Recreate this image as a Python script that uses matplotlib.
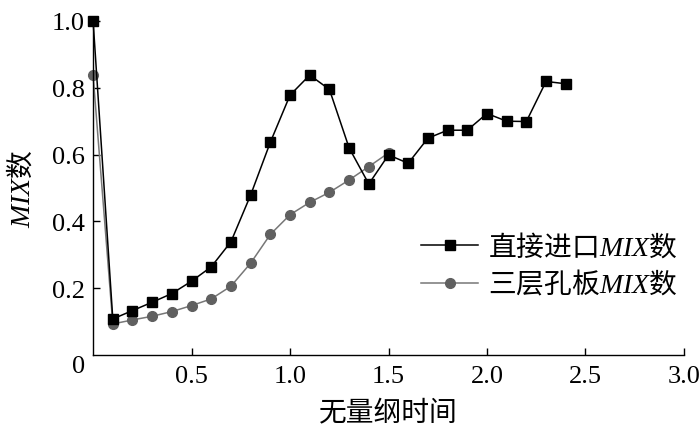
import matplotlib
matplotlib.use("Agg")
import matplotlib.pyplot as plt
from matplotlib.font_manager import FontProperties

plt.rcParams['font.family'] = ['Liberation Serif', 'Noto Sans CJK SC']
plt.rcParams['mathtext.fontset'] = 'custom'
plt.rcParams['mathtext.rm'] = 'Liberation Serif'
plt.rcParams['mathtext.it'] = 'Liberation Serif:italic'

# 数据
x_direct = [0.0, 0.1, 0.2, 0.3, 0.4, 0.5, 0.6, 0.7, 0.8, 0.9, 1.0, 1.1, 1.2,
            1.3, 1.4, 1.5, 1.6, 1.7, 1.8, 1.9, 2.0, 2.1, 2.2, 2.3, 2.4]
y_direct = [1.0, 0.108, 0.133, 0.158, 0.184, 0.221, 0.264, 0.339, 0.479, 0.637,
            0.778, 0.838, 0.795, 0.620, 0.512, 0.599, 0.574, 0.649, 0.673, 0.673,
            0.723, 0.700, 0.699, 0.819, 0.812]

x_orifice = [0.0, 0.1, 0.2, 0.3, 0.4, 0.5, 0.6, 0.7, 0.8, 0.9, 1.0, 1.1, 1.2,
             1.3, 1.4, 1.5]
y_orifice = [0.837, 0.093, 0.105, 0.116, 0.130, 0.148, 0.168, 0.206, 0.275,
             0.361, 0.420, 0.457, 0.487, 0.524, 0.564, 0.605]

label_direct = '直接进口$MIX$数'
label_orifice = '三层孔板$MIX$数'
x_ticks = [0.5, 1.0, 1.5, 2.0, 2.5, 3.0]
y_ticks = [0.2, 0.4, 0.6, 0.8, 1.0]

cjk = FontProperties(family='Noto Sans CJK SC', size=20)

fig = plt.figure(figsize=(7, 4.31), dpi=100)
ax = fig.add_axes([0.133, 0.174, 0.844, 0.775])

ax.plot(x_direct, y_direct, color='black', lw=1.1, marker='s', markersize=7,
        label=label_direct, clip_on=False, zorder=3)
ax.plot(x_orifice, y_orifice, color='#777777', lw=1.1, marker='o', markersize=7,
        markerfacecolor='#606060', markeredgecolor='#606060', label=label_orifice,
        clip_on=False, zorder=2)

ax.set_xlim(0, 3.0)
ax.set_ylim(0, 1.0)
ax.set_xticks(x_ticks)
ax.set_xticklabels(['%.1f' % v for v in x_ticks])
ax.set_yticks(y_ticks)
ax.set_yticklabels(['%.1f' % v for v in y_ticks])
ax.tick_params(direction='in', length=5, width=1, labelsize=19)
ax.tick_params(axis='x', pad=7)
ax.tick_params(axis='y', pad=6)
ax.spines['top'].set_visible(False)
ax.spines['right'].set_visible(False)
for s in ['left', 'bottom']:
    ax.spines[s].set_linewidth(1)

ax.annotate('0', xy=(0, 0), xycoords='data', xytext=(-6, -8),
            textcoords='offset points', fontsize=19, ha='right', va='center')

ax.set_xlabel('无量纲时间', fontproperties=cjk, labelpad=8)
ax.set_ylabel('$MIX$数', fontproperties=cjk, labelpad=11)

ax.legend(loc='center left', bbox_to_anchor=(0.513, 0.268), frameon=False,
          prop=cjk, handlelength=2.05, handletextpad=0.36, labelspacing=0.3)

plt.savefig('out.png', dpi=100)
